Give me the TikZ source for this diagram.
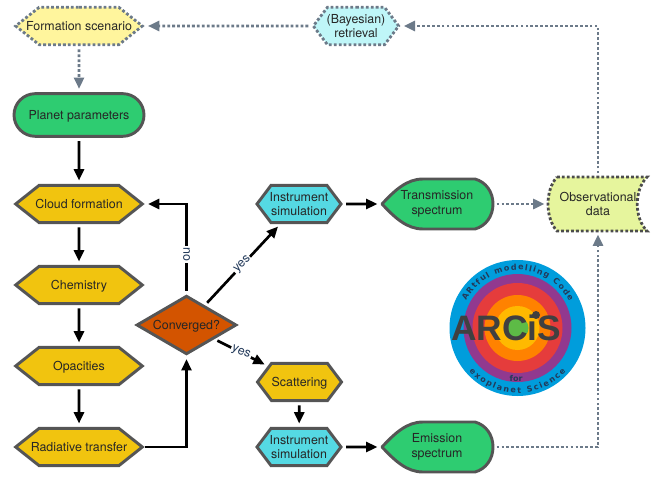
\documentclass[tikz,border=0pt]{standalone}
\usepackage{fontspec}
\setmainfont{TeX Gyre Heros}
\newfontfamily\logofont{DejaVu Sans}
\newfontfamily\bannerfont{Liberation Sans}
\usepackage{tikz}
\usetikzlibrary{arrows.meta,calc,shapes.geometric,shapes.misc,shapes.symbols,decorations.text}

\definecolor{gold}{HTML}{F1C40F}
\definecolor{leaf}{HTML}{2ECC71}
\definecolor{aqua}{HTML}{55D9E3}
\definecolor{rust}{HTML}{D35400}
\definecolor{rim}{HTML}{555555}
\definecolor{dotgray}{HTML}{6C7A89}
\definecolor{lemon}{HTML}{FFF59D}
\definecolor{ice}{HTML}{BFF6F8}
\definecolor{lime}{HTML}{E6F59D}
\definecolor{ink}{HTML}{233A5A}

\tikzset{
  every node/.style={font=\fontsize{9.3}{11}\selectfont,text=black!85,align=center},
  oneline/.style={text height=7.4pt,text depth=0pt},
  hexbox/.style={signal,signal to=west and east,signal pointer angle=77,draw=rim,line width=2.2pt,
    inner ysep=0pt,inner xsep=-30pt,minimum width=95pt,minimum height=28pt},
  stepbox/.style={hexbox,oneline,fill=gold},
  simbox/.style={hexbox,fill=aqua,signal pointer angle=106,minimum width=63pt},
  dotbox/.style={signal,signal to=west and east,signal pointer angle=77,inner ysep=0pt,inner xsep=-30pt,
    draw=dotgray,line width=2.1pt,dash pattern=on 2.1pt off 1.6pt,minimum height=28pt},
  flow/.style={line width=2pt,-{Triangle[length=8.5pt,width=7.5pt]},shorten >=2.5pt,shorten <=2.5pt},
  dotflow/.style={color=dotgray,line width=2.1pt,dash pattern=on 2.1pt off 1.6pt,
    -{Triangle[length=8.5pt,width=7.5pt,sep=0pt]},shorten >=2.5pt,shorten <=2.5pt},
  answer/.style={fill=white,text=ink,inner sep=1pt}
}

\begin{document}
\begin{tikzpicture}[x=0.75pt,y=-0.75pt]
  \useasboundingbox (0,0) rectangle (653,481);

  % Left column
  \node[dotbox,oneline,fill=lemon,minimum width=95pt] (scenario) at (79,26) {Formation scenario};
  \node[rounded rectangle,oneline,draw=rim,fill=leaf,line width=2.2pt,minimum width=97.5pt,minimum height=32pt,inner sep=0pt] (planet) at (79,115) {Planet parameters};
  \node[stepbox] (cloud) at (79,204) {Cloud formation};
  \node[stepbox] (chem) at (79,285) {Chemistry};
  \node[stepbox] (opac) at (79,366) {Opacities};
  \node[stepbox] (radtrans) at (79,447) {Radiative transfer};

  % Decision
  \node[diamond,oneline,draw=rim,fill=rust,line width=2.2pt,aspect=1.7,inner sep=0pt,minimum width=75pt,minimum height=44pt] (conv) at (186.5,325) {Converged?};

  % Middle column
  \node[simbox] (simtop) at (299,204) {Instrument\\simulation};
  \node[stepbox,signal pointer angle=106,minimum width=63pt] (scat) at (299.5,382) {Scattering};
  \node[simbox] (simbot) at (299,447) {Instrument\\simulation};
  \node[dotbox,fill=ice,signal pointer angle=106,minimum width=64pt] (retrieval) at (356,26) {(Bayesian)\\retrieval};

  % Spectra, outline first and the text on top
  \foreach \cx/\cy in {437/204,437/447}{
    \draw[draw=rim,fill=leaf,line width=2.2pt,line join=round]
      (\cx-55,\cy) .. controls (\cx-42,\cy-14) and (\cx-30,\cy-25) .. (\cx-14,\cy-25)
      -- (\cx+38,\cy-25) .. controls (\cx+49,\cy-22) and (\cx+56,\cy-12) .. (\cx+56,\cy)
      .. controls (\cx+56,\cy+12) and (\cx+49,\cy+22) .. (\cx+38,\cy+25)
      -- (\cx-14,\cy+25) .. controls (\cx-30,\cy+25) and (\cx-42,\cy+14) .. (\cx-55,\cy) -- cycle;
  }
  \node[minimum width=84pt,minimum height=38pt,inner sep=0pt] (transm) at (437,204) {Transmission\\spectrum};
  \node[minimum width=84pt,minimum height=38pt,inner sep=0pt] (emis) at (437,447) {Emission\\spectrum};

  % Data sheet
  \draw[draw=black!70,fill=lime,line width=2.1pt,dash pattern=on 2.1pt off 1.6pt]
    (557,177) -- (647,177) .. controls (634,190) and (634,218) .. (647,231) -- (557,231)
    .. controls (545,218) and (545,190) .. (557,177) -- cycle;
  \node[minimum width=75pt,minimum height=40.5pt,inner sep=0pt] (obs) at (598,204) {Observational\\data};

  % Logo
  \foreach \rad/\col in {68/009DDC,54/91398F,45/E53C3C,33/FF8200,22/FFB900,11/5DBB46}{
    \definecolor{ringcol}{HTML}{\col}
    \fill[ringcol] (517.5,328) circle[radius=\rad];
  }
  \path[postaction={decorate,decoration={text along path,text align=fit to path,
      text={|\logofont\bfseries\fontsize{6}{6}\selectfont\color{ink}|ARtful modelling Code}}}]
    (517.5,328) ++(-152:58) arc[start angle=-152,end angle=-27,radius=58];
  \path[postaction={decorate,decoration={text along path,text align=fit to path,
      text={|\logofont\bfseries\fontsize{6}{6}\selectfont\color{ink}|exoplanet Science}}}]
    (517.5,328) ++(-222:65) arc[start angle=-222,end angle=-318,radius=65];
  \node[font=\logofont\bfseries\fontsize{6}{6}\selectfont,text=ink,inner sep=0pt] (fortxt) at (516,379) {for};
  \node[font=\bannerfont\bfseries\fontsize{26.5}{28}\selectfont,text=black!75,inner sep=0pt] (banner) at (506,328) {ARCiS};
  \fill[black!75] (536,315) circle[radius=4];

  % Connectors
  \draw[dotflow] (scenario) -- (planet);
  \draw[flow] (planet) -- (cloud);
  \draw[flow] (cloud) -- (chem);
  \draw[flow] (chem) -- (opac);
  \draw[flow] (opac) -- (radtrans);
  \draw[flow,shorten <=0pt] (radtrans) -| (conv);
  \draw[flow] (conv) |- (cloud) node[answer,pos=0.22,rotate=-90] {no};
  \draw[flow] (conv) -- (simtop) node[answer,midway,rotate=45] {yes};
  \draw[flow] (conv) -- (scat) node[answer,midway,rotate=-22] {yes};
  \draw[flow] (scat) -- (simbot);
  \draw[flow] (simtop) -- (transm);
  \draw[flow] (simbot) -- (emis);
  \draw[dotflow] (transm) -- (obs);
  \draw[dotflow] (emis) -| (obs);
  \draw[dotflow] (obs) |- (retrieval);
  \draw[dotflow] (retrieval) -- (scenario);
\end{tikzpicture}
\end{document}
